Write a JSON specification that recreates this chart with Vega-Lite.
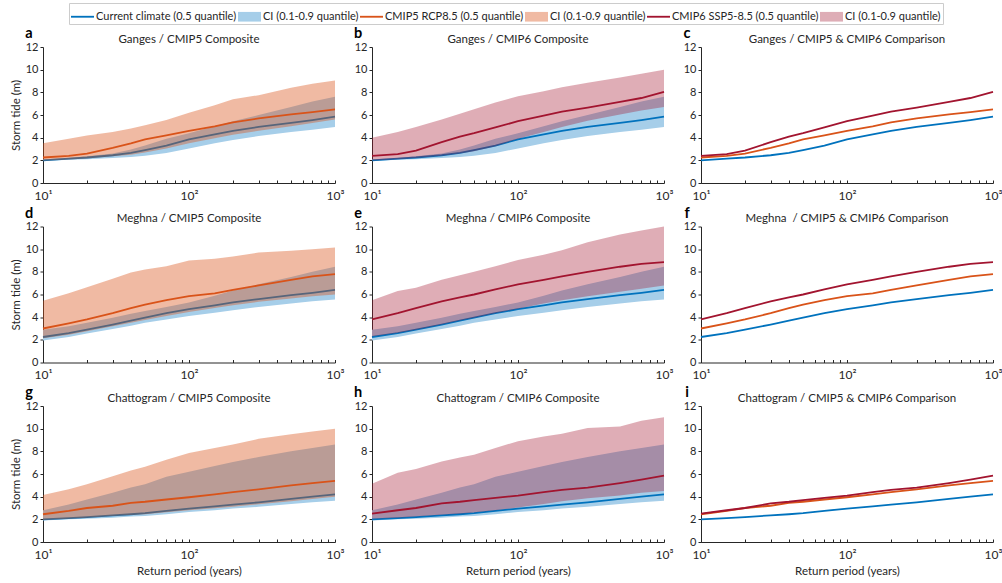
{
"$schema": "https://vega.github.io/schema/vega-lite/v6.json",
"background": "white",
"padding": {"left": 10, "top": 2, "right": 5, "bottom": 2},
"config": {
  "font": "Lato",
  "view": {"stroke": null},
  "axis": {"domainColor": "#262626", "tickColor": "#262626", "labelColor": "#262626", "labelFontSize": 11, "titleFontSize": 11.5, "titleFontWeight": "normal", "titleColor": "#262626", "labelFont": "Lato", "titleFont": "Lato", "grid": false},
  "axisX": {"values": [10,20,30,40,50,60,70,80,90,100,200,300,400,500,600,700,800,900,1000], "labelExpr": "datum.value==10?'10¹':datum.value==100?'10²':datum.value==1000?'10³':''", "labelFlush": false, "labelOverlap": false, "tickSize": -3, "labelPadding": 10, "labelFontSize": 12, "titlePadding": 5},
  "axisY": {"values": [0,2,4,6,8,10,12], "tickSize": 3, "labelPadding": 2},
  "title": {"fontSize": 11.5, "fontWeight": "normal", "font": "Lato", "offset": -19, "color": "#262626"},
  "text": {"font": "Lato", "fontWeight": "bold", "fontSize": 14.5, "align": "center", "baseline": "alphabetic", "dx": -14, "dy": -9, "color": "#000000"},
  "line": {"strokeWidth": 1.8},
  "legend": {"layout": {"top": {"anchor": "middle"}}}
},
"datasets": {"d": [
{"r":"G","s":"cur","rp":10,"m":2.0,"lo":1.95,"hi":2.1},{"r":"G","s":"cur","rp":15,"m":2.15,"lo":2.05,"hi":2.2},{"r":"G","s":"cur","rp":20,"m":2.25,"lo":2.1,"hi":2.35},{"r":"G","s":"cur","rp":30,"m":2.45,"lo":2.2,"hi":2.6},{"r":"G","s":"cur","rp":40,"m":2.65,"lo":2.3,"hi":2.95},{"r":"G","s":"cur","rp":50,"m":2.9,"lo":2.4,"hi":3.3},{"r":"G","s":"cur","rp":70,"m":3.3,"lo":2.65,"hi":3.9},{"r":"G","s":"cur","rp":100,"m":3.85,"lo":3.05,"hi":4.4},{"r":"G","s":"cur","rp":150,"m":4.3,"lo":3.5,"hi":5.0},{"r":"G","s":"cur","rp":200,"m":4.6,"lo":3.8,"hi":5.45},{"r":"G","s":"cur","rp":300,"m":4.95,"lo":4.15,"hi":6.0},{"r":"G","s":"cur","rp":500,"m":5.3,"lo":4.5,"hi":6.7},{"r":"G","s":"cur","rp":700,"m":5.55,"lo":4.7,"hi":7.2},{"r":"G","s":"cur","rp":1000,"m":5.85,"lo":4.95,"hi":7.6},
{"r":"G","s":"c5","rp":10,"m":2.25,"lo":1.97,"hi":3.5},{"r":"G","s":"c5","rp":15,"m":2.4,"lo":2.08,"hi":3.9},{"r":"G","s":"c5","rp":20,"m":2.6,"lo":2.17,"hi":4.2},{"r":"G","s":"c5","rp":30,"m":3.1,"lo":2.35,"hi":4.5},{"r":"G","s":"c5","rp":40,"m":3.5,"lo":2.5,"hi":4.8},{"r":"G","s":"c5","rp":50,"m":3.85,"lo":2.7,"hi":5.1},{"r":"G","s":"c5","rp":70,"m":4.2,"lo":3.05,"hi":5.55},{"r":"G","s":"c5","rp":100,"m":4.6,"lo":3.5,"hi":6.2},{"r":"G","s":"c5","rp":150,"m":5.0,"lo":3.95,"hi":6.85},{"r":"G","s":"c5","rp":200,"m":5.35,"lo":4.25,"hi":7.4},{"r":"G","s":"c5","rp":300,"m":5.7,"lo":4.6,"hi":7.75},{"r":"G","s":"c5","rp":500,"m":6.05,"lo":5.0,"hi":8.4},{"r":"G","s":"c5","rp":700,"m":6.25,"lo":5.3,"hi":8.75},{"r":"G","s":"c5","rp":1000,"m":6.5,"lo":5.6,"hi":9.05},
{"r":"G","s":"c6","rp":10,"m":2.4,"lo":1.98,"hi":4.0},{"r":"G","s":"c6","rp":15,"m":2.55,"lo":2.1,"hi":4.5},{"r":"G","s":"c6","rp":20,"m":2.85,"lo":2.2,"hi":4.95},{"r":"G","s":"c6","rp":30,"m":3.6,"lo":2.4,"hi":5.6},{"r":"G","s":"c6","rp":40,"m":4.1,"lo":2.6,"hi":6.1},{"r":"G","s":"c6","rp":50,"m":4.4,"lo":2.8,"hi":6.5},{"r":"G","s":"c6","rp":70,"m":4.9,"lo":3.25,"hi":7.1},{"r":"G","s":"c6","rp":100,"m":5.45,"lo":3.9,"hi":7.65},{"r":"G","s":"c6","rp":150,"m":5.95,"lo":4.5,"hi":8.1},{"r":"G","s":"c6","rp":200,"m":6.3,"lo":4.95,"hi":8.45},{"r":"G","s":"c6","rp":300,"m":6.65,"lo":5.5,"hi":8.85},{"r":"G","s":"c6","rp":500,"m":7.15,"lo":6.05,"hi":9.3},{"r":"G","s":"c6","rp":700,"m":7.5,"lo":6.4,"hi":9.65},{"r":"G","s":"c6","rp":1000,"m":8.05,"lo":6.7,"hi":10.0},
{"r":"M","s":"cur","rp":10,"m":2.25,"lo":1.95,"hi":2.9},{"r":"M","s":"cur","rp":15,"m":2.6,"lo":2.25,"hi":3.2},{"r":"M","s":"cur","rp":20,"m":2.9,"lo":2.55,"hi":3.5},{"r":"M","s":"cur","rp":30,"m":3.35,"lo":2.95,"hi":3.95},{"r":"M","s":"cur","rp":40,"m":3.7,"lo":3.25,"hi":4.3},{"r":"M","s":"cur","rp":50,"m":3.95,"lo":3.5,"hi":4.55},{"r":"M","s":"cur","rp":70,"m":4.35,"lo":3.8,"hi":4.9},{"r":"M","s":"cur","rp":100,"m":4.7,"lo":4.1,"hi":5.3},{"r":"M","s":"cur","rp":150,"m":5.05,"lo":4.4,"hi":5.9},{"r":"M","s":"cur","rp":200,"m":5.3,"lo":4.6,"hi":6.35},{"r":"M","s":"cur","rp":300,"m":5.6,"lo":4.9,"hi":6.9},{"r":"M","s":"cur","rp":500,"m":5.95,"lo":5.2,"hi":7.55},{"r":"M","s":"cur","rp":700,"m":6.15,"lo":5.4,"hi":8.0},{"r":"M","s":"cur","rp":1000,"m":6.4,"lo":5.55,"hi":8.45},
{"r":"M","s":"c5","rp":10,"m":3.0,"lo":2.15,"hi":5.45},{"r":"M","s":"c5","rp":15,"m":3.45,"lo":2.45,"hi":6.1},{"r":"M","s":"c5","rp":20,"m":3.8,"lo":2.75,"hi":6.65},{"r":"M","s":"c5","rp":30,"m":4.35,"lo":3.2,"hi":7.4},{"r":"M","s":"c5","rp":40,"m":4.8,"lo":3.5,"hi":7.95},{"r":"M","s":"c5","rp":50,"m":5.1,"lo":3.75,"hi":8.2},{"r":"M","s":"c5","rp":70,"m":5.5,"lo":4.1,"hi":8.5},{"r":"M","s":"c5","rp":100,"m":5.85,"lo":4.45,"hi":9.0},{"r":"M","s":"c5","rp":150,"m":6.1,"lo":4.8,"hi":9.15},{"r":"M","s":"c5","rp":200,"m":6.4,"lo":5.05,"hi":9.35},{"r":"M","s":"c5","rp":300,"m":6.8,"lo":5.35,"hi":9.7},{"r":"M","s":"c5","rp":500,"m":7.3,"lo":5.65,"hi":9.85},{"r":"M","s":"c5","rp":700,"m":7.6,"lo":5.85,"hi":10.0},{"r":"M","s":"c5","rp":1000,"m":7.8,"lo":6.0,"hi":10.15},
{"r":"M","s":"c6","rp":10,"m":3.8,"lo":2.3,"hi":5.5},{"r":"M","s":"c6","rp":15,"m":4.35,"lo":2.6,"hi":6.3},{"r":"M","s":"c6","rp":20,"m":4.8,"lo":2.9,"hi":6.6},{"r":"M","s":"c6","rp":30,"m":5.4,"lo":3.35,"hi":7.3},{"r":"M","s":"c6","rp":40,"m":5.75,"lo":3.7,"hi":7.7},{"r":"M","s":"c6","rp":50,"m":6.0,"lo":3.95,"hi":8.0},{"r":"M","s":"c6","rp":70,"m":6.45,"lo":4.35,"hi":8.5},{"r":"M","s":"c6","rp":100,"m":6.9,"lo":4.75,"hi":9.05},{"r":"M","s":"c6","rp":150,"m":7.3,"lo":5.2,"hi":9.5},{"r":"M","s":"c6","rp":200,"m":7.6,"lo":5.5,"hi":9.9},{"r":"M","s":"c6","rp":300,"m":8.0,"lo":5.85,"hi":10.6},{"r":"M","s":"c6","rp":500,"m":8.45,"lo":6.25,"hi":11.3},{"r":"M","s":"c6","rp":700,"m":8.7,"lo":6.5,"hi":11.65},{"r":"M","s":"c6","rp":1000,"m":8.85,"lo":6.8,"hi":12.0},
{"r":"C","s":"cur","rp":10,"m":2.0,"lo":1.9,"hi":2.8},{"r":"C","s":"cur","rp":15,"m":2.1,"lo":2.0,"hi":3.3},{"r":"C","s":"cur","rp":20,"m":2.2,"lo":2.05,"hi":3.75},{"r":"C","s":"cur","rp":30,"m":2.35,"lo":2.15,"hi":4.35},{"r":"C","s":"cur","rp":40,"m":2.45,"lo":2.25,"hi":4.8},{"r":"C","s":"cur","rp":50,"m":2.55,"lo":2.3,"hi":5.1},{"r":"C","s":"cur","rp":70,"m":2.75,"lo":2.45,"hi":5.75},{"r":"C","s":"cur","rp":100,"m":2.95,"lo":2.65,"hi":6.2},{"r":"C","s":"cur","rp":150,"m":3.15,"lo":2.8,"hi":6.7},{"r":"C","s":"cur","rp":200,"m":3.3,"lo":2.95,"hi":7.05},{"r":"C","s":"cur","rp":300,"m":3.5,"lo":3.1,"hi":7.5},{"r":"C","s":"cur","rp":500,"m":3.8,"lo":3.35,"hi":8.0},{"r":"C","s":"cur","rp":700,"m":4.0,"lo":3.5,"hi":8.3},{"r":"C","s":"cur","rp":1000,"m":4.2,"lo":3.65,"hi":8.6},
{"r":"C","s":"c5","rp":10,"m":2.45,"lo":1.95,"hi":4.15},{"r":"C","s":"c5","rp":15,"m":2.75,"lo":2.05,"hi":4.65},{"r":"C","s":"c5","rp":20,"m":3.0,"lo":2.15,"hi":5.1},{"r":"C","s":"c5","rp":30,"m":3.2,"lo":2.3,"hi":5.8},{"r":"C","s":"c5","rp":40,"m":3.45,"lo":2.38,"hi":6.3},{"r":"C","s":"c5","rp":50,"m":3.55,"lo":2.45,"hi":6.65},{"r":"C","s":"c5","rp":70,"m":3.75,"lo":2.62,"hi":7.25},{"r":"C","s":"c5","rp":100,"m":3.95,"lo":2.8,"hi":7.85},{"r":"C","s":"c5","rp":150,"m":4.2,"lo":2.98,"hi":8.3},{"r":"C","s":"c5","rp":200,"m":4.4,"lo":3.12,"hi":8.6},{"r":"C","s":"c5","rp":300,"m":4.65,"lo":3.32,"hi":9.1},{"r":"C","s":"c5","rp":500,"m":5.0,"lo":3.6,"hi":9.5},{"r":"C","s":"c5","rp":700,"m":5.2,"lo":3.8,"hi":9.75},{"r":"C","s":"c5","rp":1000,"m":5.4,"lo":4.0,"hi":10.0},
{"r":"C","s":"c6","rp":10,"m":2.5,"lo":2.05,"hi":5.15},{"r":"C","s":"c6","rp":15,"m":2.8,"lo":2.15,"hi":6.1},{"r":"C","s":"c6","rp":20,"m":3.0,"lo":2.25,"hi":6.45},{"r":"C","s":"c6","rp":30,"m":3.4,"lo":2.4,"hi":7.1},{"r":"C","s":"c6","rp":40,"m":3.55,"lo":2.5,"hi":7.45},{"r":"C","s":"c6","rp":50,"m":3.7,"lo":2.6,"hi":7.7},{"r":"C","s":"c6","rp":70,"m":3.9,"lo":2.8,"hi":8.3},{"r":"C","s":"c6","rp":100,"m":4.1,"lo":3.05,"hi":8.9},{"r":"C","s":"c6","rp":150,"m":4.4,"lo":3.35,"hi":9.3},{"r":"C","s":"c6","rp":200,"m":4.6,"lo":3.6,"hi":9.55},{"r":"C","s":"c6","rp":300,"m":4.8,"lo":3.85,"hi":10.05},{"r":"C","s":"c6","rp":500,"m":5.2,"lo":4.1,"hi":10.2},{"r":"C","s":"c6","rp":700,"m":5.5,"lo":4.35,"hi":10.7},{"r":"C","s":"c6","rp":1000,"m":5.85,"lo":4.5,"hi":11.0}
]},
"columns": 3,
"bounds": "flush",
"spacing": {"row": 43.5, "column": 37},
"concat": [
{
 "width": 292, "height": 136,
 "title": "Ganges / CMIP5 Composite",
 "data": {"name": "d"},
 "transform": [{"filter": "datum.r=='G'"}],
 "layer": [
  {"transform": [{"filter": "datum.s=='cur'"}], "mark": {"type": "area", "color": "#A6CEE9"}, "encoding": {"x": {"field": "rp", "type": "quantitative", "scale": {"type": "log", "domain": [10, 1000]}, "axis": {"title": null}}, "y": {"field": "lo", "type": "quantitative", "scale": {"domain": [0, 12]}, "axis": {"title": "Storm tide (m)"}}, "y2": {"field": "hi"}}},
  {"transform": [{"filter": "datum.s=='cur'"}], "mark": {"type": "line", "color": "#0072BD"}, "encoding": {"x": {"field": "rp", "type": "quantitative", "scale": {"type": "log", "domain": [10, 1000]}, "axis": {"title": null}}, "y": {"field": "m", "type": "quantitative", "scale": {"domain": [0, 12]}, "axis": {"title": "Storm tide (m)"}}}},
  {"transform": [{"filter": "datum.s=='c5'"}], "mark": {"type": "area", "color": "#D95319", "opacity": 0.4}, "encoding": {"x": {"field": "rp", "type": "quantitative", "scale": {"type": "log", "domain": [10, 1000]}, "axis": {"title": null}}, "y": {"field": "lo", "type": "quantitative", "scale": {"domain": [0, 12]}, "axis": {"title": "Storm tide (m)"}}, "y2": {"field": "hi"}}},
  {"transform": [{"filter": "datum.s=='c5'"}], "mark": {"type": "line", "color": "#D95319"}, "encoding": {"x": {"field": "rp", "type": "quantitative", "scale": {"type": "log", "domain": [10, 1000]}, "axis": {"title": null}}, "y": {"field": "m", "type": "quantitative", "scale": {"domain": [0, 12]}, "axis": {"title": "Storm tide (m)"}}}},
  {"data": {"values": [{"t": "a", "rp": 10, "v": 12}]}, "mark": {"type": "text"}, "encoding": {"x": {"field": "rp", "type": "quantitative", "scale": {"type": "log", "domain": [10, 1000]}, "axis": {"title": null}}, "y": {"field": "v", "type": "quantitative", "scale": {"domain": [0, 12]}, "axis": {"title": "Storm tide (m)"}}, "text": {"field": "t"}}},
  {"data": {"values": [{"k": "k1"}, {"k": "k2"}, {"k": "k3"}, {"k": "k4"}, {"k": "k5"}, {"k": "k6"}]}, "mark": {"type": "point", "filled": true, "opacity": 0}, "encoding": {
    "color": {"field": "k", "type": "nominal", "scale": {"domain": ["k1","k2","k3","k4","k5","k6"], "range": ["#0072BD","#A6CEE9","#D95319","#F0BAA3","#A2142F","#DEADB6"]}, "legend": {"orient": "top", "direction": "horizontal", "columns": 6, "title": null, "symbolSize": 529, "symbolStrokeWidth": 0, "symbolOpacity": 1, "labelFont": "Lato", "labelFontSize": 11, "labelColor": "#262626", "strokeColor": "#cccccc", "padding": 2, "offset": 2, "columnPadding": 1, "labelOffset": 2, "labelExpr": "datum.value=='k1'?'Current climate (0.5 quantile)':datum.value=='k3'?'CMIP5 RCP8.5 (0.5 quantile)':datum.value=='k5'?'CMIP6 SSP5-8.5 (0.5 quantile)':'CI (0.1-0.9 quantile)'", "encode": {"symbols": {"update": {"opacity": {"value": 1}}}}}},
    "shape": {"field": "k", "type": "nominal", "scale": {"domain": ["k1","k2","k3","k4","k5","k6"], "range": ["M-1,-0.08H1V0.08H-1Z","M-1,-0.42H1V0.42H-1Z","M-1,-0.08H1V0.08H-1Z","M-1,-0.42H1V0.42H-1Z","M-1,-0.08H1V0.08H-1Z","M-1,-0.42H1V0.42H-1Z"]}, "legend": {"orient": "top", "direction": "horizontal", "columns": 6, "title": null, "symbolSize": 529, "symbolStrokeWidth": 0, "symbolOpacity": 1, "labelFont": "Lato", "labelFontSize": 11, "labelColor": "#262626", "strokeColor": "#cccccc", "padding": 2, "offset": 2, "columnPadding": 1, "labelOffset": 2, "labelExpr": "datum.value=='k1'?'Current climate (0.5 quantile)':datum.value=='k3'?'CMIP5 RCP8.5 (0.5 quantile)':datum.value=='k5'?'CMIP6 SSP5-8.5 (0.5 quantile)':'CI (0.1-0.9 quantile)'", "encode": {"symbols": {"update": {"opacity": {"value": 1}}}}}}
  }}
 ]
},
{
 "width": 292, "height": 136,
 "title": "Ganges / CMIP6 Composite",
 "data": {"name": "d"},
 "transform": [{"filter": "datum.r=='G'"}],
 "layer": [
  {"transform": [{"filter": "datum.s=='cur'"}], "mark": {"type": "area", "color": "#A6CEE9"}, "encoding": {"x": {"field": "rp", "type": "quantitative", "scale": {"type": "log", "domain": [10, 1000]}, "axis": {"title": null}}, "y": {"field": "lo", "type": "quantitative", "scale": {"domain": [0, 12]}, "axis": {"title": null}}, "y2": {"field": "hi"}}},
  {"transform": [{"filter": "datum.s=='cur'"}], "mark": {"type": "line", "color": "#0072BD"}, "encoding": {"x": {"field": "rp", "type": "quantitative", "scale": {"type": "log", "domain": [10, 1000]}, "axis": {"title": null}}, "y": {"field": "m", "type": "quantitative", "scale": {"domain": [0, 12]}, "axis": {"title": null}}}},
  {"transform": [{"filter": "datum.s=='c6'"}], "mark": {"type": "area", "color": "#A2142F", "opacity": 0.35}, "encoding": {"x": {"field": "rp", "type": "quantitative", "scale": {"type": "log", "domain": [10, 1000]}, "axis": {"title": null}}, "y": {"field": "lo", "type": "quantitative", "scale": {"domain": [0, 12]}, "axis": {"title": null}}, "y2": {"field": "hi"}}},
  {"transform": [{"filter": "datum.s=='c6'"}], "mark": {"type": "line", "color": "#A2142F"}, "encoding": {"x": {"field": "rp", "type": "quantitative", "scale": {"type": "log", "domain": [10, 1000]}, "axis": {"title": null}}, "y": {"field": "m", "type": "quantitative", "scale": {"domain": [0, 12]}, "axis": {"title": null}}}},
  {"data": {"values": [{"t": "b", "rp": 10, "v": 12}]}, "mark": {"type": "text"}, "encoding": {"x": {"field": "rp", "type": "quantitative", "scale": {"type": "log", "domain": [10, 1000]}, "axis": {"title": null}}, "y": {"field": "v", "type": "quantitative", "scale": {"domain": [0, 12]}, "axis": {"title": null}}, "text": {"field": "t"}}}
 ]
},
{
 "width": 292, "height": 136,
 "title": "Ganges / CMIP5 & CMIP6 Comparison",
 "data": {"name": "d"},
 "transform": [{"filter": "datum.r=='G'"}],
 "layer": [
  {"transform": [{"filter": "datum.s=='cur'"}], "mark": {"type": "line", "color": "#0072BD"}, "encoding": {"x": {"field": "rp", "type": "quantitative", "scale": {"type": "log", "domain": [10, 1000]}, "axis": {"title": null}}, "y": {"field": "m", "type": "quantitative", "scale": {"domain": [0, 12]}, "axis": {"title": null}}}},
  {"transform": [{"filter": "datum.s=='c5'"}], "mark": {"type": "line", "color": "#D95319"}, "encoding": {"x": {"field": "rp", "type": "quantitative", "scale": {"type": "log", "domain": [10, 1000]}, "axis": {"title": null}}, "y": {"field": "m", "type": "quantitative", "scale": {"domain": [0, 12]}, "axis": {"title": null}}}},
  {"transform": [{"filter": "datum.s=='c6'"}], "mark": {"type": "line", "color": "#A2142F"}, "encoding": {"x": {"field": "rp", "type": "quantitative", "scale": {"type": "log", "domain": [10, 1000]}, "axis": {"title": null}}, "y": {"field": "m", "type": "quantitative", "scale": {"domain": [0, 12]}, "axis": {"title": null}}}},
  {"data": {"values": [{"t": "c", "rp": 10, "v": 12}]}, "mark": {"type": "text"}, "encoding": {"x": {"field": "rp", "type": "quantitative", "scale": {"type": "log", "domain": [10, 1000]}, "axis": {"title": null}}, "y": {"field": "v", "type": "quantitative", "scale": {"domain": [0, 12]}, "axis": {"title": null}}, "text": {"field": "t"}}}
 ]
},
{
 "width": 292, "height": 136,
 "title": "Meghna / CMIP5 Composite",
 "data": {"name": "d"},
 "transform": [{"filter": "datum.r=='M'"}],
 "layer": [
  {"transform": [{"filter": "datum.s=='cur'"}], "mark": {"type": "area", "color": "#A6CEE9"}, "encoding": {"x": {"field": "rp", "type": "quantitative", "scale": {"type": "log", "domain": [10, 1000]}, "axis": {"title": null}}, "y": {"field": "lo", "type": "quantitative", "scale": {"domain": [0, 12]}, "axis": {"title": "Storm tide (m)"}}, "y2": {"field": "hi"}}},
  {"transform": [{"filter": "datum.s=='cur'"}], "mark": {"type": "line", "color": "#0072BD"}, "encoding": {"x": {"field": "rp", "type": "quantitative", "scale": {"type": "log", "domain": [10, 1000]}, "axis": {"title": null}}, "y": {"field": "m", "type": "quantitative", "scale": {"domain": [0, 12]}, "axis": {"title": "Storm tide (m)"}}}},
  {"transform": [{"filter": "datum.s=='c5'"}], "mark": {"type": "area", "color": "#D95319", "opacity": 0.4}, "encoding": {"x": {"field": "rp", "type": "quantitative", "scale": {"type": "log", "domain": [10, 1000]}, "axis": {"title": null}}, "y": {"field": "lo", "type": "quantitative", "scale": {"domain": [0, 12]}, "axis": {"title": "Storm tide (m)"}}, "y2": {"field": "hi"}}},
  {"transform": [{"filter": "datum.s=='c5'"}], "mark": {"type": "line", "color": "#D95319"}, "encoding": {"x": {"field": "rp", "type": "quantitative", "scale": {"type": "log", "domain": [10, 1000]}, "axis": {"title": null}}, "y": {"field": "m", "type": "quantitative", "scale": {"domain": [0, 12]}, "axis": {"title": "Storm tide (m)"}}}},
  {"data": {"values": [{"t": "d", "rp": 10, "v": 12}]}, "mark": {"type": "text"}, "encoding": {"x": {"field": "rp", "type": "quantitative", "scale": {"type": "log", "domain": [10, 1000]}, "axis": {"title": null}}, "y": {"field": "v", "type": "quantitative", "scale": {"domain": [0, 12]}, "axis": {"title": "Storm tide (m)"}}, "text": {"field": "t"}}}
 ]
},
{
 "width": 292, "height": 136,
 "title": "Meghna / CMIP6 Composite",
 "data": {"name": "d"},
 "transform": [{"filter": "datum.r=='M'"}],
 "layer": [
  {"transform": [{"filter": "datum.s=='cur'"}], "mark": {"type": "area", "color": "#A6CEE9"}, "encoding": {"x": {"field": "rp", "type": "quantitative", "scale": {"type": "log", "domain": [10, 1000]}, "axis": {"title": null}}, "y": {"field": "lo", "type": "quantitative", "scale": {"domain": [0, 12]}, "axis": {"title": null}}, "y2": {"field": "hi"}}},
  {"transform": [{"filter": "datum.s=='cur'"}], "mark": {"type": "line", "color": "#0072BD"}, "encoding": {"x": {"field": "rp", "type": "quantitative", "scale": {"type": "log", "domain": [10, 1000]}, "axis": {"title": null}}, "y": {"field": "m", "type": "quantitative", "scale": {"domain": [0, 12]}, "axis": {"title": null}}}},
  {"transform": [{"filter": "datum.s=='c6'"}], "mark": {"type": "area", "color": "#A2142F", "opacity": 0.35}, "encoding": {"x": {"field": "rp", "type": "quantitative", "scale": {"type": "log", "domain": [10, 1000]}, "axis": {"title": null}}, "y": {"field": "lo", "type": "quantitative", "scale": {"domain": [0, 12]}, "axis": {"title": null}}, "y2": {"field": "hi"}}},
  {"transform": [{"filter": "datum.s=='c6'"}], "mark": {"type": "line", "color": "#A2142F"}, "encoding": {"x": {"field": "rp", "type": "quantitative", "scale": {"type": "log", "domain": [10, 1000]}, "axis": {"title": null}}, "y": {"field": "m", "type": "quantitative", "scale": {"domain": [0, 12]}, "axis": {"title": null}}}},
  {"data": {"values": [{"t": "e", "rp": 10, "v": 12}]}, "mark": {"type": "text"}, "encoding": {"x": {"field": "rp", "type": "quantitative", "scale": {"type": "log", "domain": [10, 1000]}, "axis": {"title": null}}, "y": {"field": "v", "type": "quantitative", "scale": {"domain": [0, 12]}, "axis": {"title": null}}, "text": {"field": "t"}}}
 ]
},
{
 "width": 292, "height": 136,
 "title": "Meghna \u00a0/ CMIP5 & CMIP6 Comparison",
 "data": {"name": "d"},
 "transform": [{"filter": "datum.r=='M'"}],
 "layer": [
  {"transform": [{"filter": "datum.s=='cur'"}], "mark": {"type": "line", "color": "#0072BD"}, "encoding": {"x": {"field": "rp", "type": "quantitative", "scale": {"type": "log", "domain": [10, 1000]}, "axis": {"title": null}}, "y": {"field": "m", "type": "quantitative", "scale": {"domain": [0, 12]}, "axis": {"title": null}}}},
  {"transform": [{"filter": "datum.s=='c5'"}], "mark": {"type": "line", "color": "#D95319"}, "encoding": {"x": {"field": "rp", "type": "quantitative", "scale": {"type": "log", "domain": [10, 1000]}, "axis": {"title": null}}, "y": {"field": "m", "type": "quantitative", "scale": {"domain": [0, 12]}, "axis": {"title": null}}}},
  {"transform": [{"filter": "datum.s=='c6'"}], "mark": {"type": "line", "color": "#A2142F"}, "encoding": {"x": {"field": "rp", "type": "quantitative", "scale": {"type": "log", "domain": [10, 1000]}, "axis": {"title": null}}, "y": {"field": "m", "type": "quantitative", "scale": {"domain": [0, 12]}, "axis": {"title": null}}}},
  {"data": {"values": [{"t": "f", "rp": 10, "v": 12}]}, "mark": {"type": "text"}, "encoding": {"x": {"field": "rp", "type": "quantitative", "scale": {"type": "log", "domain": [10, 1000]}, "axis": {"title": null}}, "y": {"field": "v", "type": "quantitative", "scale": {"domain": [0, 12]}, "axis": {"title": null}}, "text": {"field": "t"}}}
 ]
},
{
 "width": 292, "height": 136,
 "title": "Chattogram / CMIP5 Composite",
 "data": {"name": "d"},
 "transform": [{"filter": "datum.r=='C'"}],
 "layer": [
  {"transform": [{"filter": "datum.s=='cur'"}], "mark": {"type": "area", "color": "#A6CEE9"}, "encoding": {"x": {"field": "rp", "type": "quantitative", "scale": {"type": "log", "domain": [10, 1000]}, "axis": {"title": "Return period (years)"}}, "y": {"field": "lo", "type": "quantitative", "scale": {"domain": [0, 12]}, "axis": {"title": "Storm tide (m)"}}, "y2": {"field": "hi"}}},
  {"transform": [{"filter": "datum.s=='cur'"}], "mark": {"type": "line", "color": "#0072BD"}, "encoding": {"x": {"field": "rp", "type": "quantitative", "scale": {"type": "log", "domain": [10, 1000]}, "axis": {"title": "Return period (years)"}}, "y": {"field": "m", "type": "quantitative", "scale": {"domain": [0, 12]}, "axis": {"title": "Storm tide (m)"}}}},
  {"transform": [{"filter": "datum.s=='c5'"}], "mark": {"type": "area", "color": "#D95319", "opacity": 0.4}, "encoding": {"x": {"field": "rp", "type": "quantitative", "scale": {"type": "log", "domain": [10, 1000]}, "axis": {"title": "Return period (years)"}}, "y": {"field": "lo", "type": "quantitative", "scale": {"domain": [0, 12]}, "axis": {"title": "Storm tide (m)"}}, "y2": {"field": "hi"}}},
  {"transform": [{"filter": "datum.s=='c5'"}], "mark": {"type": "line", "color": "#D95319"}, "encoding": {"x": {"field": "rp", "type": "quantitative", "scale": {"type": "log", "domain": [10, 1000]}, "axis": {"title": "Return period (years)"}}, "y": {"field": "m", "type": "quantitative", "scale": {"domain": [0, 12]}, "axis": {"title": "Storm tide (m)"}}}},
  {"data": {"values": [{"t": "g", "rp": 10, "v": 12}]}, "mark": {"type": "text"}, "encoding": {"x": {"field": "rp", "type": "quantitative", "scale": {"type": "log", "domain": [10, 1000]}, "axis": {"title": "Return period (years)"}}, "y": {"field": "v", "type": "quantitative", "scale": {"domain": [0, 12]}, "axis": {"title": "Storm tide (m)"}}, "text": {"field": "t"}}}
 ]
},
{
 "width": 292, "height": 136,
 "title": "Chattogram / CMIP6 Composite",
 "data": {"name": "d"},
 "transform": [{"filter": "datum.r=='C'"}],
 "layer": [
  {"transform": [{"filter": "datum.s=='cur'"}], "mark": {"type": "area", "color": "#A6CEE9"}, "encoding": {"x": {"field": "rp", "type": "quantitative", "scale": {"type": "log", "domain": [10, 1000]}, "axis": {"title": "Return period (years)"}}, "y": {"field": "lo", "type": "quantitative", "scale": {"domain": [0, 12]}, "axis": {"title": null}}, "y2": {"field": "hi"}}},
  {"transform": [{"filter": "datum.s=='cur'"}], "mark": {"type": "line", "color": "#0072BD"}, "encoding": {"x": {"field": "rp", "type": "quantitative", "scale": {"type": "log", "domain": [10, 1000]}, "axis": {"title": "Return period (years)"}}, "y": {"field": "m", "type": "quantitative", "scale": {"domain": [0, 12]}, "axis": {"title": null}}}},
  {"transform": [{"filter": "datum.s=='c6'"}], "mark": {"type": "area", "color": "#A2142F", "opacity": 0.35}, "encoding": {"x": {"field": "rp", "type": "quantitative", "scale": {"type": "log", "domain": [10, 1000]}, "axis": {"title": "Return period (years)"}}, "y": {"field": "lo", "type": "quantitative", "scale": {"domain": [0, 12]}, "axis": {"title": null}}, "y2": {"field": "hi"}}},
  {"transform": [{"filter": "datum.s=='c6'"}], "mark": {"type": "line", "color": "#A2142F"}, "encoding": {"x": {"field": "rp", "type": "quantitative", "scale": {"type": "log", "domain": [10, 1000]}, "axis": {"title": "Return period (years)"}}, "y": {"field": "m", "type": "quantitative", "scale": {"domain": [0, 12]}, "axis": {"title": null}}}},
  {"data": {"values": [{"t": "h", "rp": 10, "v": 12}]}, "mark": {"type": "text"}, "encoding": {"x": {"field": "rp", "type": "quantitative", "scale": {"type": "log", "domain": [10, 1000]}, "axis": {"title": "Return period (years)"}}, "y": {"field": "v", "type": "quantitative", "scale": {"domain": [0, 12]}, "axis": {"title": null}}, "text": {"field": "t"}}}
 ]
},
{
 "width": 292, "height": 136,
 "title": "Chattogram / CMIP5 & CMIP6 Comparison",
 "data": {"name": "d"},
 "transform": [{"filter": "datum.r=='C'"}],
 "layer": [
  {"transform": [{"filter": "datum.s=='cur'"}], "mark": {"type": "line", "color": "#0072BD"}, "encoding": {"x": {"field": "rp", "type": "quantitative", "scale": {"type": "log", "domain": [10, 1000]}, "axis": {"title": "Return period (years)"}}, "y": {"field": "m", "type": "quantitative", "scale": {"domain": [0, 12]}, "axis": {"title": null}}}},
  {"transform": [{"filter": "datum.s=='c5'"}], "mark": {"type": "line", "color": "#D95319"}, "encoding": {"x": {"field": "rp", "type": "quantitative", "scale": {"type": "log", "domain": [10, 1000]}, "axis": {"title": "Return period (years)"}}, "y": {"field": "m", "type": "quantitative", "scale": {"domain": [0, 12]}, "axis": {"title": null}}}},
  {"transform": [{"filter": "datum.s=='c6'"}], "mark": {"type": "line", "color": "#A2142F"}, "encoding": {"x": {"field": "rp", "type": "quantitative", "scale": {"type": "log", "domain": [10, 1000]}, "axis": {"title": "Return period (years)"}}, "y": {"field": "m", "type": "quantitative", "scale": {"domain": [0, 12]}, "axis": {"title": null}}}},
  {"data": {"values": [{"t": "i", "rp": 10, "v": 12}]}, "mark": {"type": "text"}, "encoding": {"x": {"field": "rp", "type": "quantitative", "scale": {"type": "log", "domain": [10, 1000]}, "axis": {"title": "Return period (years)"}}, "y": {"field": "v", "type": "quantitative", "scale": {"domain": [0, 12]}, "axis": {"title": null}}, "text": {"field": "t"}}}
 ]
}
]
}
